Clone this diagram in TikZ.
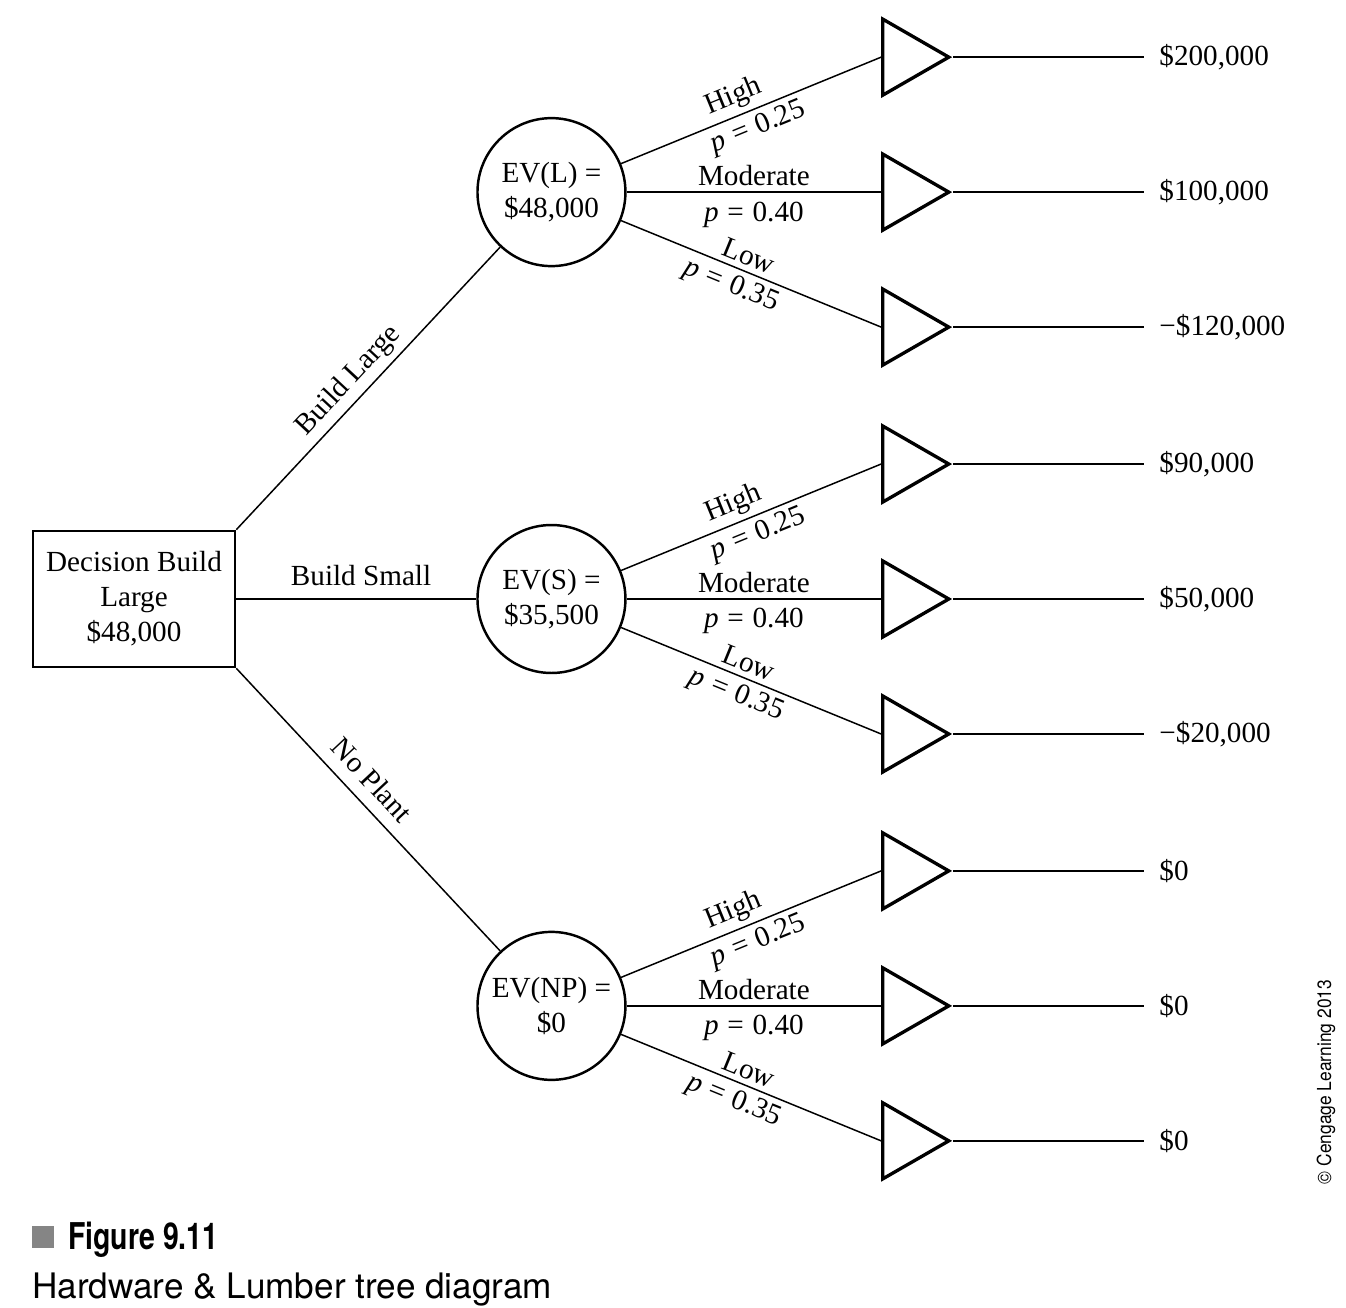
\documentclass[tikz,border=0pt]{standalone}
\usepackage{fontspec}
\setmainfont{Liberation Serif}
\newfontfamily\capfont{TeX Gyre Heros}
\newfontfamily\capnarrow[FakeStretch=0.77]{TeX Gyre Heros}
\newfontfamily\copyfont[FakeStretch=0.9]{TeX Gyre Heros}
\usetikzlibrary{positioning,shapes.geometric}
\tikzstyle{dbox}=[rectangle, draw=black, line width=1.5pt, minimum width=4.04cm, minimum height=2.72cm, inner sep=2pt, align=center]
\tikzstyle{cnode}=[circle, draw=black, line width=1.4pt, minimum size=2.96cm, inner sep=0pt, align=center]
\tikzstyle{tnode}=[isosceles triangle, isosceles triangle stretches, draw=black, line width=1.9pt, minimum width=1.52cm, minimum height=1.32cm, inner sep=0pt]
\tikzstyle{vnode}=[inner xsep=0.3cm, inner ysep=0pt]
\tikzstyle{pline}=[-, line width=0.85pt]
\tikzstyle{plabel}=[inner sep=3pt, sloped]
\newcommand{\prob}[1]{\textit{p}\hspace{0.3em}=\hspace{0.3em}#1}
\begin{document}
\begin{tikzpicture}[x=0.02cm, y=-0.02cm, node distance=0mm, font=\fontsize{16.6}{19.9}\selectfont]
\useasboundingbox (0,0) rectangle (1346,1308);
\node (DEC) [dbox] at (134,599) {Decision Build\\Large\\\$48,000};
\node (EVS) [cnode,right=4.8cm of DEC] {EV(S) =\\\$35,500};
\node (EVL) [cnode,above=5.13cm of EVS] {EV(L) =\\\$48,000};
\node (EVNP) [cnode,below=5.13cm of EVS] {EV(NP) =\\\$0};
 \draw[pline] (DEC.north east) -- (EVL) node[plabel,pos=0.48,above] {Build Large};
 \draw[pline] (DEC) -- (EVS) node[plabel,pos=0.52,above=4pt] {Build Small};
 \draw[pline] (DEC.south east) -- (EVNP) node[plabel,pos=0.45,above=4pt] {No Plant};
% large plant
\node (TLH) [tnode,right=5.09cm of EVL,yshift=2.7cm] {};
\node (TLM) [tnode,right=5.09cm of EVL] {};
\node (TLL) [tnode,right=5.09cm of EVL,yshift=-2.7cm] {};
 \draw[pline] (EVL) -- (TLH.west) node[plabel,pos=0.46,above] {High} node[plabel,pos=0.5,below] {\prob{0.25}};
 \draw[pline] (EVL) -- (TLM.west) node[plabel,pos=0.5,above] {Moderate} node[plabel,pos=0.5,below=2pt] {\prob{0.40}};
 \draw[pline] (EVL) -- (TLL.west) node[plabel,pos=0.47,above] {Low} node[plabel,pos=0.45,below] {\prob{0.35}};
\node (VLH) [vnode,right=3.82cm of TLH] {\$200,000};
\node (VLM) [vnode,right=3.82cm of TLM] {\$100,000};
\node (VLL) [vnode,right=3.82cm of TLL] {−\$120,000};
 \draw[pline] (TLH.east) -- (VLH.west);
 \draw[pline] (TLM.east) -- (VLM.west);
 \draw[pline] (TLL.east) -- (VLL.west);
% small plant
\node (TSH) [tnode,right=5.09cm of EVS,yshift=2.7cm] {};
\node (TSM) [tnode,right=5.09cm of EVS] {};
\node (TSL) [tnode,right=5.09cm of EVS,yshift=-2.7cm] {};
 \draw[pline] (EVS) -- (TSH.west) node[plabel,pos=0.46,above] {High} node[plabel,pos=0.5,below] {\prob{0.25}};
 \draw[pline] (EVS) -- (TSM.west) node[plabel,pos=0.5,above] {Moderate} node[plabel,pos=0.5,below=2pt] {\prob{0.40}};
 \draw[pline] (EVS) -- (TSL.west) node[plabel,pos=0.47,above] {Low} node[plabel,pos=0.47,below] {\prob{0.35}};
\node (VSH) [vnode,right=3.82cm of TSH] {\$90,000};
\node (VSM) [vnode,right=3.82cm of TSM] {\$50,000};
\node (VSL) [vnode,right=3.82cm of TSL] {−\$20,000};
 \draw[pline] (TSH.east) -- (VSH.west);
 \draw[pline] (TSM.east) -- (VSM.west);
 \draw[pline] (TSL.east) -- (VSL.west);
% no plant
\node (TNH) [tnode,right=5.09cm of EVNP,yshift=2.7cm] {};
\node (TNM) [tnode,right=5.09cm of EVNP] {};
\node (TNL) [tnode,right=5.09cm of EVNP,yshift=-2.7cm] {};
 \draw[pline] (EVNP) -- (TNH.west) node[plabel,pos=0.46,above] {High} node[plabel,pos=0.5,below] {\prob{0.25}};
 \draw[pline] (EVNP) -- (TNM.west) node[plabel,pos=0.5,above] {Moderate} node[plabel,pos=0.5,below=2pt] {\prob{0.40}};
 \draw[pline] (EVNP) -- (TNL.west) node[plabel,pos=0.47,above] {Low} node[plabel,pos=0.46,below] {\prob{0.35}};
\node (VNH) [vnode,right=3.82cm of TNH] {\$0};
\node (VNM) [vnode,right=3.82cm of TNM] {\$0};
\node (VNL) [vnode,right=3.82cm of TNL] {\$0};
 \draw[pline] (TNH.east) -- (VNH.west);
 \draw[pline] (TNM.east) -- (VNM.west);
 \draw[pline] (TNL.east) -- (VNL.west);
% caption
\node (SQ) [fill=black!48, minimum size=0.44cm, inner sep=0pt, anchor=south west] at (32,1248) {};
\node (FIG) [font=\capnarrow\bfseries\fontsize{21}{25}\selectfont, inner sep=0pt, anchor=base west] at (68,1249) {Figure 9.11};
\node (CAP) [font=\capfont\fontsize{20}{24}\selectfont, inner sep=0pt, anchor=base west] at (32,1298) {Hardware \& Lumber tree diagram};
\node (COPY) [font=\copyfont\fontsize{11}{13}\selectfont, inner sep=0pt, rotate=90] at (1326,1082) {© Cengage Learning 2013};
\end{tikzpicture}
\end{document}
